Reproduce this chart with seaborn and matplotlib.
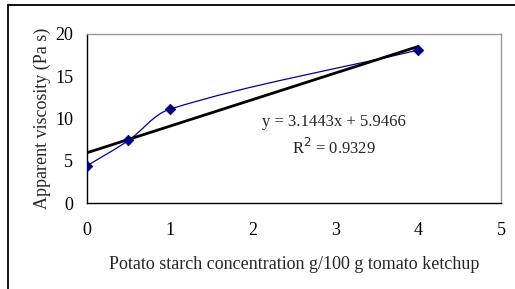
import numpy as np
import matplotlib
matplotlib.use('Agg')
import matplotlib.pyplot as plt
import seaborn as sns
from matplotlib.path import Path
from matplotlib.patches import PathPatch
from matplotlib.lines import Line2D

# Data
starch = [0, 0.5, 1, 4]
viscosity = [4.4, 7.4, 11.1, 18.1]
slope = 3.1443
intercept = 5.9466
r_squared = 0.9329
x_ticks = [0, 1, 2, 3, 4, 5]
y_ticks = [0, 5, 10, 15, 20]

sns.set_style('white')
plt.rcParams['font.family'] = ['Liberation Serif', 'DejaVu Serif']

fig = plt.figure(figsize=(5.15, 2.89), dpi=100)
ax = fig.add_axes([87 / 515, 1 - 203 / 289, 414 / 515, 169 / 289])
ax.set_xlim(0, 5)
ax.set_ylim(0, 20)


# Excel-style smoothed line: Bezier segments, tangents worked out in screen space
def smooth_path(ax, xs, ys):
    pts = ax.transData.transform(np.column_stack([xs, ys]).astype(float))
    n = len(pts)
    verts = [pts[0]]
    codes = [Path.MOVETO]

    def unit(v):
        return v / np.hypot(*v)

    for i in range(n - 1):
        p0, p1 = pts[i], pts[i + 1]
        seg = np.hypot(*(p1 - p0)) / 3
        t0 = unit(p1 - pts[max(i - 1, 0)])
        t1 = unit(pts[min(i + 2, n - 1)] - p0)
        verts += [p0 + t0 * seg, p1 - t1 * seg, p1]
        codes += [Path.CURVE4] * 3
    verts = ax.transData.inverted().transform(np.array(verts))
    return Path(verts, codes)


ax.add_patch(PathPatch(smooth_path(ax, starch, viscosity), facecolor='none',
                       edgecolor='#000099', linewidth=0.9, zorder=2))

# Linear trendline
fit_x = np.array([starch[0], starch[-1]])
sns.lineplot(x=fit_x, y=slope * fit_x + intercept, color='black', linewidth=2.0, ax=ax, zorder=3)

sns.scatterplot(x=starch, y=viscosity, marker='D', s=30, color='#000080',
                edgecolor='#000080', ax=ax, zorder=4)

ax.text(2.98, 9.6, f'y = {slope}x + {intercept}', ha='center', va='center', fontsize=12)
ax.text(2.98, 6.5, f'R$^2$ = {r_squared}', ha='center', va='center', fontsize=12)

ax.set_xticks(x_ticks)
ax.set_yticks(y_ticks)
ax.tick_params(direction='out', length=4, width=1, colors='black', labelsize=13)
ax.tick_params(axis='x', pad=10)
ax.tick_params(axis='y', pad=6)
ax.set_xlabel('Potato starch concentration g/100 g tomato ketchup', fontsize=13, labelpad=12)
ax.set_ylabel('Apparent viscosity (Pa s)', fontsize=13, labelpad=3)

for side in ['left', 'bottom']:
    ax.spines[side].set_color('black')
    ax.spines[side].set_linewidth(1.0)
for side in ['top', 'right']:
    ax.spines[side].set_color('#999999')
    ax.spines[side].set_linewidth(1.0)

# Outer chart border (top and left visible)
fig.add_artist(Line2D([8 / 515, 8 / 515], [0, 1 - 5 / 289], transform=fig.transFigure, color='black', linewidth=1.3))
fig.add_artist(Line2D([8 / 515, 1], [1 - 5 / 289, 1 - 5 / 289], transform=fig.transFigure, color='black', linewidth=1.3))

fig.savefig('out.png', dpi=100)
